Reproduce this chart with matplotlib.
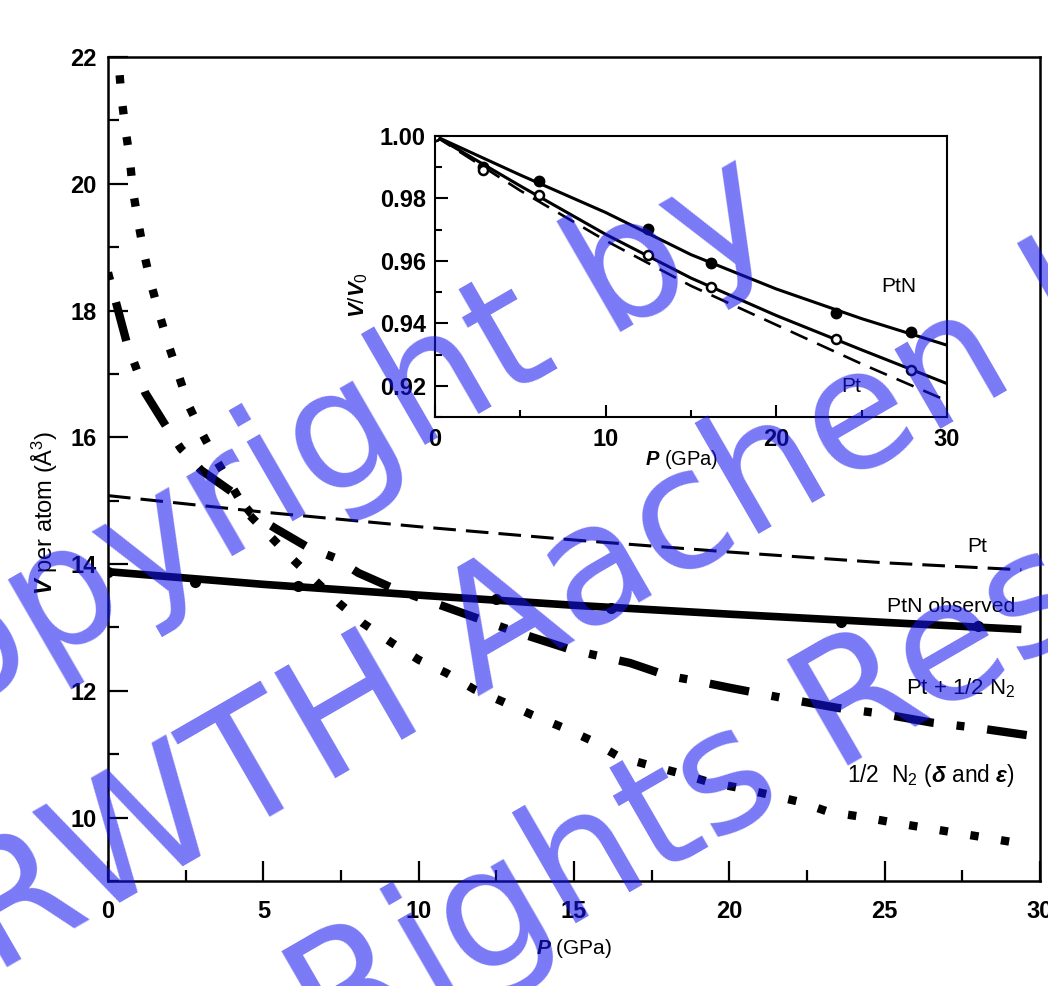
import matplotlib
matplotlib.use('Agg')
import matplotlib.pyplot as plt
from matplotlib import font_manager as fm
from matplotlib.ticker import MultipleLocator, FixedLocator, FormatStrFormatter
from matplotlib.transforms import IdentityTransform

# ---------------- data ----------------
# main panel: volume per atom (A^3) versus pressure P (GPa)
pt_P = [0, 5, 10, 15, 20, 25, 29.4]
pt_V = [15.08, 14.82, 14.59, 14.38, 14.19, 14.02, 13.91]

ptn_fit_P = [0, 5, 10, 15, 20, 25, 29.4]
ptn_fit_V = [13.88, 13.68, 13.51, 13.35, 13.21, 13.08, 12.97]

ptn_obs_P = [0, 2.8, 6.1, 12.5, 16.2, 23.6, 28.0]
ptn_obs_V = [13.88, 13.72, 13.65, 13.45, 13.30, 13.08, 13.02]

mix_P = [0.0, 0.6, 1.2, 1.9, 2.35, 3.0, 4.1, 4.6, 5.4, 6.45, 7.3, 8.06, 9.26,
         11.0, 13.0, 14.9, 16.8, 18.0, 18.9, 20.0, 21.9, 23.5, 24.9, 26.5,
         27.9, 29.6]
mix_V = [18.6, 17.5, 16.7, 16.15, 15.82, 15.48, 15.1, 14.8, 14.56, 14.26, 14.1,
         13.86, 13.6, 13.3, 12.95, 12.65, 12.44, 12.24, 12.16, 12.05, 11.87,
         11.73, 11.64, 11.5, 11.42, 11.3]

n2_P = [0.3, 0.42, 0.55, 0.7, 0.8, 0.97, 1.16, 1.38, 1.65, 1.94, 2.26, 2.6,
        3.03, 3.5, 4.5, 5.3, 6.0, 7.42, 8.2, 9.1, 10.0, 10.9, 11.8, 12.7,
        13.65, 14.6, 15.5, 16.45, 17.4, 18.4, 19.35, 20.3, 21.3, 22.25, 23.2,
        24.3, 25.3, 26.3, 27.3, 28.3, 29.4]
n2_V = [22.2, 21.43, 20.9, 20.4, 19.9, 19.4, 18.9, 18.43, 17.95, 17.47, 17.0,
        16.5, 16.06, 15.63, 14.8, 14.4, 14.05, 13.39, 13.07, 12.77, 12.49,
        12.28, 12.02, 11.83, 11.62, 11.43, 11.23, 10.96, 10.83, 10.7, 10.56,
        10.47, 10.36, 10.25, 10.09, 10.01, 9.92, 9.84, 9.76, 9.68, 9.59]

# inset: V/V0 versus P (GPa)
in_fit_P = [0, 5, 10, 15, 20, 25, 30]
in_ptn_fit = [1.0, 0.9875, 0.9755, 0.962, 0.951, 0.9415, 0.933]
in_pt_fit = [1.0, 0.984, 0.9685, 0.9545, 0.9425, 0.9315, 0.9207]
in_pt_eos = [1.0, 0.9825, 0.9665, 0.952, 0.9395, 0.927, 0.9152]

in_obs_P = [0, 2.8, 6.1, 12.5, 16.2, 23.5, 27.9]
in_ptn_obs = [1.0, 0.990, 0.9855, 0.9701, 0.9592, 0.9432, 0.9371]
in_pt_obs = [1.0, 0.989, 0.981, 0.9618, 0.9515, 0.9351, 0.9249]

main_yticks = [10, 12, 14, 16, 18, 20, 22]
inset_yticks = [0.92, 0.94, 0.96, 0.98, 1.00]
inset_yminor = [0.91, 0.93, 0.95, 0.97, 0.99]

watermark = ["Copyright by", "RWTH Aachen University", "All Rights Reserved"]


# ---------------- fonts ----------------
def font_ok(name):
    try:
        fm.findfont(fm.FontProperties(family=name), fallback_to_default=False)
        return True
    except Exception:
        return False


NARROW = 'Liberation Sans Narrow' if font_ok('Liberation Sans Narrow') else 'Liberation Sans'

plt.rcParams['font.family'] = ['Liberation Sans', 'DejaVu Sans']
plt.rcParams['mathtext.fontset'] = 'custom'
plt.rcParams['mathtext.rm'] = NARROW
plt.rcParams['mathtext.it'] = NARROW + ':italic:bold'
plt.rcParams['mathtext.bf'] = NARROW + ':bold'

W, H = 1048, 986
fig = plt.figure(figsize=(W / 100, H / 100), dpi=100)
fig.patch.set_facecolor('white')

# ---------------- main axes ----------------
ax = fig.add_axes([108 / W, 1 - 881 / H, 932 / W, 824 / H])
ax.plot(pt_P, pt_V, color='k', lw=2.2, ls=(0, (7.4, 3.3)))
ax.plot(ptn_fit_P, ptn_fit_V, color='k', lw=5.5, solid_capstyle='butt')
ax.plot(ptn_obs_P, ptn_obs_V, 'o', color='k', ms=7)
ax.plot(mix_P, mix_V, color='k', lw=6, ls=(7.55, (4.8, 2.75, 0.95, 2.75)))
ax.plot(n2_P, n2_V, color='k', lw=6, ls=(0, (1.0, 2.72)))

ax.set_xlim(0, 30)
ax.set_ylim(9, 22)
ax.xaxis.set_major_locator(MultipleLocator(5))
ax.xaxis.set_minor_locator(MultipleLocator(2.5))
ax.yaxis.set_major_locator(FixedLocator(main_yticks))
ax.yaxis.set_minor_locator(MultipleLocator(1))
ax.tick_params(which='both', direction='in', top=False, right=False, width=1.6)
ax.tick_params(which='major', length=14.5, labelsize=17)
ax.tick_params(which='minor', length=8)
ax.tick_params(axis='x', which='major', pad=13.5)
ax.tick_params(axis='y', which='major', pad=8)
for s in ax.spines.values():
    s.set_linewidth(1.8)
plt.setp(ax.get_xticklabels() + ax.get_yticklabels(), fontweight='bold')

ax.set_xlabel(r'$P$ (GPa)', fontsize=15, family=NARROW)
ax.xaxis.set_label_coords(0.5, -0.068)
ax.set_ylabel(r'$V$ per atom (Å$^3$)', fontsize=17, family=NARROW)
ax.yaxis.set_label_coords(-0.0515, 0.447)

ax.text(27.97, 14.19, 'Pt', ha='center', va='baseline', fontsize=15, family=NARROW)
ax.text(29.19, 13.24, 'PtN observed', ha='right', va='baseline', fontsize=15.2, family=NARROW)
ax.text(29.2, 11.95, r'Pt + 1/2 N$_2$', ha='right', va='baseline', fontsize=16, family=NARROW)
ax.text(29.2, 10.56, r'1/2  N$_2$ ($\delta$ and $\varepsilon$)', ha='right', va='baseline',
        fontsize=16.4, family=NARROW)

# ---------------- inset ----------------
axi = fig.add_axes([435 / W, 1 - 417 / H, 512 / W, 281 / H])
axi.set_facecolor('white')
axi.plot(in_fit_P, in_ptn_fit, color='k', lw=2.2)
axi.plot(in_fit_P, in_pt_fit, color='k', lw=2.2)
axi.plot(in_fit_P, in_pt_eos, color='k', lw=1.9, ls=(0, (7, 4)))
axi.plot(in_obs_P, in_ptn_obs, 'o', color='k', ms=7.5)
axi.plot(in_obs_P, in_pt_obs, 'o', mfc='white', mec='k', mew=1.8, ms=6.5)
axi.set_xlim(0, 30)
axi.set_ylim(0.91, 1.0)
axi.xaxis.set_major_locator(MultipleLocator(10))
axi.xaxis.set_minor_locator(MultipleLocator(5))
axi.yaxis.set_major_locator(FixedLocator(inset_yticks))
axi.yaxis.set_minor_locator(FixedLocator(inset_yminor))
axi.yaxis.set_major_formatter(FormatStrFormatter('%.2f'))
axi.tick_params(which='both', direction='in', top=False, right=False, width=1.5)
axi.tick_params(which='major', length=9, labelsize=17)
axi.tick_params(which='minor', length=5)
axi.tick_params(axis='x', which='major', pad=8)
axi.tick_params(axis='y', which='major', pad=6.5)
for s in axi.spines.values():
    s.set_linewidth(1.5)
plt.setp(axi.get_xticklabels() + axi.get_yticklabels(), fontweight='bold')
axi.set_xlabel(r'$P$ (GPa)', fontsize=14.5, family=NARROW)
axi.xaxis.set_label_coords(0.482, -0.11)
axi.set_ylabel(r'$V/V_0$', fontsize=16, family=NARROW)
axi.yaxis.set_label_coords(-0.127, 0.434)
axi.text(27.2, 0.950, 'PtN', ha='center', va='baseline', fontsize=15, family=NARROW)
axi.text(24.4, 0.918, 'Pt', ha='center', va='baseline', fontsize=15, family=NARROW)

# ---------------- watermark ----------------
wm_pos = [(-150, 777), (-6, 976), (102, 1197)]
for txt, (px, py) in zip(watermark, wm_pos):
    fig.text(px, H - py, txt, transform=IdentityTransform(), rotation=30,
             rotation_mode='anchor', ha='left', va='baseline', fontsize=121,
             family='DejaVu Sans', color=(0.08, 0.08, 0.94), alpha=0.57, zorder=10)

fig.savefig('out.png', dpi=100)
